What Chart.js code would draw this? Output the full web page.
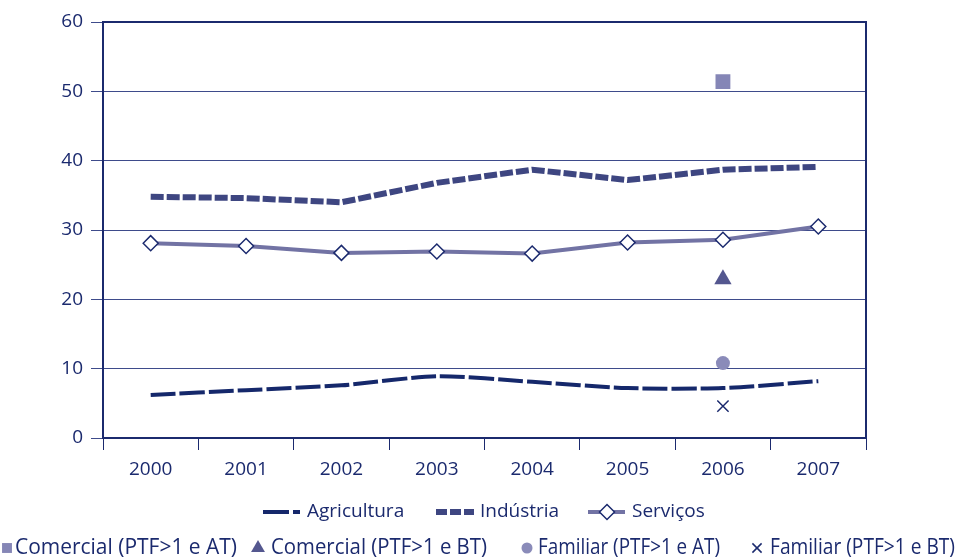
<!DOCTYPE html>
<html>
<head>
<meta charset="utf-8">
<script src="https://cdn.jsdelivr.net/npm/chart.js@4.4.1/dist/chart.umd.min.js"></script>
<style>
  html, body { margin: 0; padding: 0; background: #fff; }
  #grafico { display: block; }
</style>
</head>
<body>
<canvas id="grafico" width="957" height="559"></canvas>
<script>
// dados
const anos = ['2000', '2001', '2002', '2003', '2004', '2005', '2006', '2007'];
const agricultura = [6.2, 6.9, 7.6, 8.9, 8.1, 7.2, 7.2, 8.2];
const industria = [34.8, 34.6, 34.0, 36.8, 38.7, 37.2, 38.7, 39.1];
const servicos = [28.1, 27.7, 26.7, 26.9, 26.6, 28.2, 28.6, 30.5];

// valores isolados de 2006
const anoPontual = '2006';
const comercialAT = 51.4;
const comercialBT = 22.9;
const familiarAT = 10.8;
const familiarBT = 4.6;

const azul = '#1b2a6e';
const fonte = "'Open Sans', sans-serif";

function pontoUnico(valor) {
  return [{ x: anoPontual, y: valor }];
}

const grafico = document.getElementById('grafico');

// legenda desenhada à mão, em duas linhas
const legendaPlugin = {
  id: 'legendaManual',
  afterDraw(chart) {
    const ctx = chart.ctx;
    const area = chart.chartArea;
    const ds = chart.data.datasets;

    // moldura superior e direita
    ctx.save();
    ctx.strokeStyle = azul;
    ctx.lineWidth = 2;
    ctx.beginPath();
    ctx.moveTo(area.left, area.top);
    ctx.lineTo(area.right, area.top);
    ctx.lineTo(area.right, area.bottom);
    ctx.stroke();
    ctx.restore();

    ctx.save();
    ctx.font = '19px ' + fonte;
    ctx.textBaseline = 'middle';
    ctx.fillStyle = azul;

    const y1 = 512;
    // Agricultura
    ctx.strokeStyle = ds[0].borderColor;
    ctx.lineWidth = 4;
    ctx.beginPath();
    ctx.moveTo(263, y1); ctx.lineTo(289, y1);
    ctx.moveTo(293, y1); ctx.lineTo(300, y1);
    ctx.stroke();
    ctx.fillText(ds[0].label, 307, y1);

    // Indústria
    ctx.strokeStyle = ds[1].borderColor;
    ctx.lineWidth = 6;
    ctx.setLineDash([11, 3]);
    ctx.beginPath();
    ctx.moveTo(436, y1); ctx.lineTo(474, y1);
    ctx.stroke();
    ctx.setLineDash([]);
    ctx.fillText(ds[1].label, 480, y1);

    // Serviços
    ctx.strokeStyle = ds[2].borderColor;
    ctx.lineWidth = 4;
    ctx.beginPath();
    ctx.moveTo(588, y1); ctx.lineTo(625, y1);
    ctx.stroke();
    ctx.fillStyle = '#fff';
    ctx.strokeStyle = ds[2].pointBorderColor;
    ctx.lineWidth = 1.5;
    Chart.helpers.drawPoint(ctx, { pointStyle: 'rectRot', radius: 7.5, rotation: 0, borderWidth: 1.5 }, 607, y1);
    ctx.fillStyle = azul;
    ctx.fillText(ds[2].label, 632, y1);

    // segunda linha
    ctx.font = '21px ' + fonte;
    const y2 = 548;
    const itens = [
      { i: 3, x: 7, raio: 7, texto: 15, largura: 222 },
      { i: 4, x: 258, raio: 8, texto: 271, largura: 216 },
      { i: 5, x: 527, raio: 5.5, texto: 538, largura: 182 },
      { i: 6, x: 757, raio: 6.5, texto: 770, largura: 185 }
    ];
    itens.forEach(it => {
      const d = ds[it.i];
      ctx.fillStyle = d.pointBackgroundColor;
      ctx.strokeStyle = d.pointBorderColor;
      ctx.lineWidth = d.pointBorderWidth;
      Chart.helpers.drawPoint(ctx, { pointStyle: d.pointStyle, radius: it.raio, rotation: 0, borderWidth: d.pointBorderWidth }, it.x, y2);
      ctx.fillStyle = azul;
      ctx.fillText(d.label, it.texto, y2, it.largura);
    });
    ctx.restore();
  }
};

new Chart(grafico, {
  type: 'line',
  data: {
    labels: anos,
    datasets: [{
      label: 'Agricultura',
      data: agricultura,
      borderColor: '#15286b',
      borderWidth: 4,
      borderDash: [25, 4],
      tension: 0.25,
      pointRadius: 0,
      fill: false
    }, {
      label: 'Indústria',
      data: industria,
      borderColor: '#3e4681',
      borderWidth: 6,
      borderDash: [13, 3],
      tension: 0,
      pointRadius: 0,
      fill: false
    }, {
      label: 'Serviços',
      data: servicos,
      borderColor: '#7273a4',
      borderWidth: 4,
      tension: 0,
      pointStyle: 'rectRot',
      pointRadius: 7.5,
      pointBackgroundColor: '#fff',
      pointBorderColor: azul,
      pointBorderWidth: 1.5,
      fill: false
    }, {
      label: 'Comercial (PTF>1 e AT)',
      data: pontoUnico(comercialAT),
      showLine: false,
      pointStyle: 'rect',
      pointRadius: 10.5,
      pointBackgroundColor: '#8586b6',
      pointBorderColor: '#8586b6',
      pointBorderWidth: 0
    }, {
      label: 'Comercial (PTF>1 e BT)',
      data: pontoUnico(comercialBT),
      showLine: false,
      pointStyle: 'triangle',
      pointRadius: 10,
      pointBackgroundColor: '#54578f',
      pointBorderColor: '#54578f',
      pointBorderWidth: 0
    }, {
      label: 'Familiar (PTF>1 e AT)',
      data: pontoUnico(familiarAT),
      showLine: false,
      pointStyle: 'circle',
      pointRadius: 7,
      pointBackgroundColor: '#8a8bb9',
      pointBorderColor: '#8a8bb9',
      pointBorderWidth: 0
    }, {
      label: 'Familiar (PTF>1 e BT)',
      data: pontoUnico(familiarBT),
      showLine: false,
      pointStyle: 'crossRot',
      pointRadius: 8,
      pointBackgroundColor: azul,
      pointBorderColor: azul,
      pointBorderWidth: 1.5
    }]
  },
  options: {
    responsive: false,
    animation: false,
    layout: { padding: { top: 22, right: 91, left: 0, bottom: 0 } },
    plugins: {
      legend: { display: false },
      tooltip: { enabled: false }
    },
    scales: {
      x: {
        offset: true,
        grid: { offset: true, drawOnChartArea: false, color: azul, lineWidth: 1, tickLength: 12 },
        border: { color: azul, width: 2 },
        ticks: { color: azul, font: { family: fonte, size: 19 }, padding: 8 },
        afterFit: s => { s.height = 121; }
      },
      y: {
        min: 0,
        max: 60,
        ticks: { stepSize: 10, color: azul, font: { family: fonte, size: 19 }, padding: 8 },
        grid: { color: '#3e4b8b', lineWidth: 1, tickLength: 12 },
        border: { color: azul, width: 2 },
        afterFit: s => { s.width = 103; }
      }
    }
  },
  plugins: [legendaPlugin]
});
</script>
</body>
</html>
